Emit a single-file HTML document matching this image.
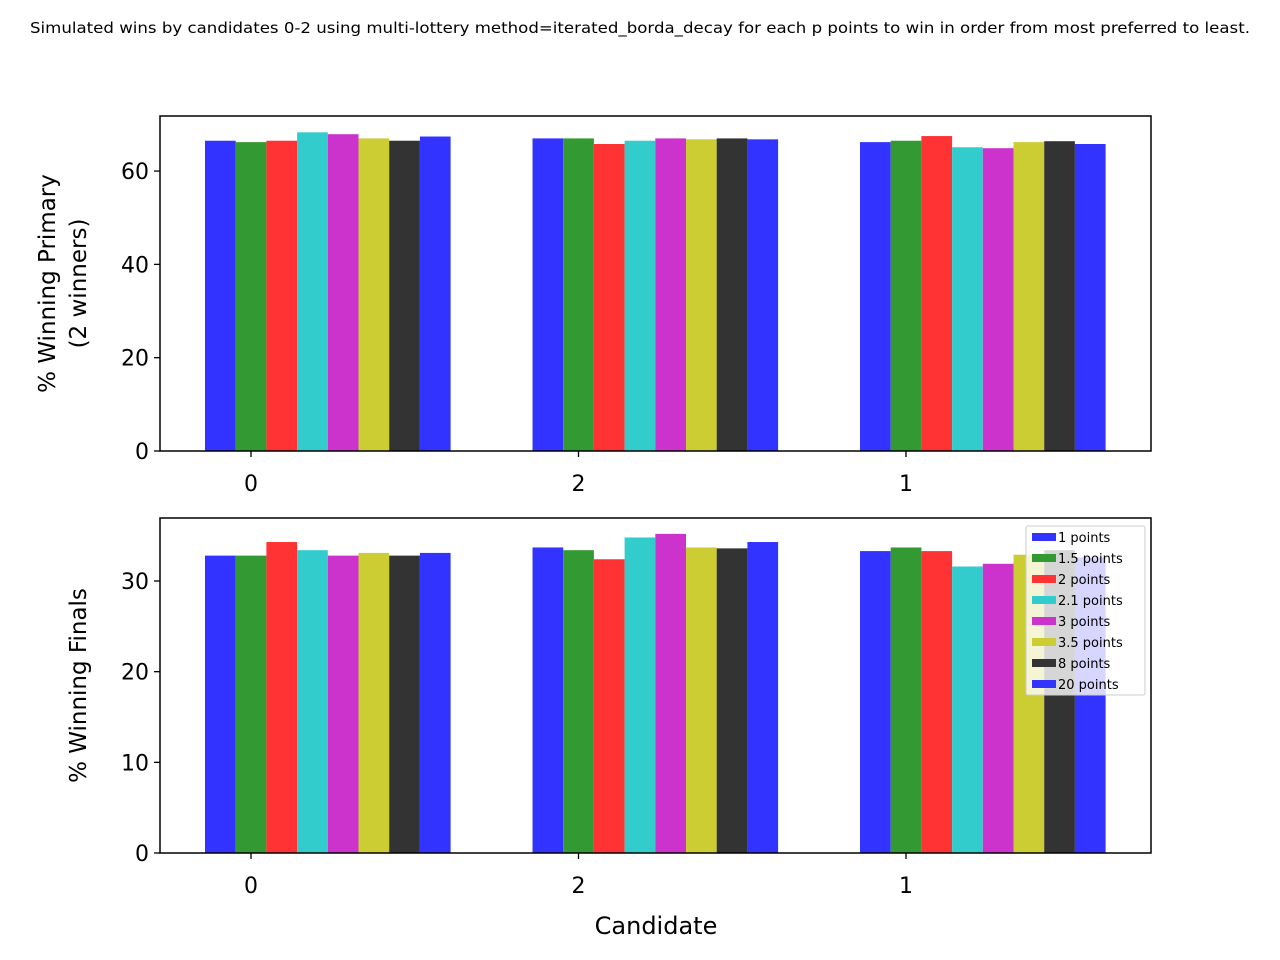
<!DOCTYPE html>
<html><head><meta charset="utf-8"><style>body{margin:0;background:#fff}svg{display:block;font-family:"DejaVu Sans","Liberation Sans",sans-serif}</style></head>
<body>
<svg id="c" width="1280" height="960" xmlns="http://www.w3.org/2000/svg">
<text x="30" y="33" font-size="15" textLength="1220" lengthAdjust="spacingAndGlyphs">Simulated wins by candidates 0-2 using multi-lottery method=iterated_borda_decay for each p points to win in order from most preferred to least.</text>
<text x="656" y="934" font-size="24" text-anchor="middle">Candidate</text>
</svg>
<script>
const categories = ["0","2","1"];
const seriesNames = ["1 points","1.5 points","2 points","2.1 points","3 points","3.5 points","8 points","20 points"];
const colors = ["#3333ff","#339933","#ff3333","#33cccc","#cc33cc","#cccc33","#333333","#3333ff"];
const primary = [
 [66.5,66.2,66.5,68.3,67.9,67.0,66.5,67.4],
 [67.0,67.0,65.8,66.5,67.0,66.8,67.0,66.8],
 [66.2,66.5,67.5,65.1,64.9,66.2,66.4,65.8]];
const finals = [
 [32.8,32.8,34.3,33.4,32.8,33.1,32.8,33.1],
 [33.7,33.4,32.4,34.8,35.2,33.7,33.6,34.3],
 [33.3,33.7,33.3,31.6,31.9,32.9,33.4,32.6]];
const primaryTicks = [0,20,40,60];
const finalsTicks = [0,10,20,30];
const svg = document.getElementById('c');
const NS = "http://www.w3.org/2000/svg";
function mk(t,a,parent){const e=document.createElementNS(NS,t);for(const k in a)e.setAttribute(k,a[k]);(parent||svg).appendChild(e);return e;}
const L=160,R=1151,bw=30.7;
function xPos(g,k){return 205+g*327.5+k*bw;}
function panel(data,ticks,top,bottom,ymax,label,lx,name){
  const y=v=>bottom-(bottom-top)*v/ymax;
  data.forEach((grp,g)=>grp.forEach((v,k)=>{
    const r=mk('rect',{x:xPos(g,k),y:y(v),width:bw,height:bottom-y(v),fill:colors[k]});
    
    
  }));
  const f=mk('rect',{x:L,y:top,width:R-L,height:bottom-top,fill:'none',stroke:'#000','stroke-width':1.5});
  
  
  ticks.forEach(t=>{
    mk('line',{x1:L-6,x2:L,y1:y(t),y2:y(t),stroke:'#000','stroke-width':1.3});
    const tx=mk('text',{x:L-11,y:y(t)+8,'font-size':22,'text-anchor':'end'});tx.textContent=t;
    
    
  });
  categories.forEach((c,g)=>{
    const cx=251+g*327.5;
    mk('line',{x1:cx,x2:cx,y1:bottom,y2:bottom+6,stroke:'#000','stroke-width':1.3});
    const tx=mk('text',{x:cx,y:bottom+40,'font-size':22,'text-anchor':'middle'});tx.textContent=c;
    
    
  });
  const cy=(top+bottom)/2;
  label.forEach((l,i)=>{
    const tx=mk('text',{x:0,y:0,'font-size':23,'text-anchor':'middle',transform:`translate(${lx[i]},${cy}) rotate(-90)`});
    tx.textContent=l;
    
    
  });
}
panel(primary,primaryTicks,116,451,71.8,["% Winning Primary","(2 winners)"],[55,86],'primary');
panel(finals,finalsTicks,518,853,36.95,["% Winning Finals"],[86],'finals');
const lg=mk('g',{});


mk('rect',{x:1026,y:526,width:119,height:169,fill:'#fff','fill-opacity':0.8,stroke:'#ccc',rx:2},lg);
seriesNames.forEach((s,i)=>{
  const yy=537+i*21;
  mk('rect',{x:1032,y:yy-4,width:24,height:8,fill:colors[i]},lg);
  const t=mk('text',{x:1058,y:yy+5,'font-size':13},lg);t.textContent=s;
  
  
});
</script>
</body></html>
